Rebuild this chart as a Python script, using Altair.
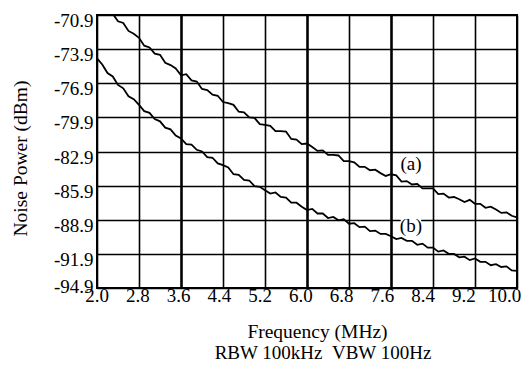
import altair as alt
import pandas as pd

freq = [round(2.0 + 0.1 * i, 1) for i in range(81)]

curve_a = [
    -69.8, -70.1, -70.65, -70.8, -71.45, -71.6, -72.3, -72.55, -72.9, -73.6,
    -73.75, -74.3, -74.4, -75.1, -75.3, -75.6, -76.2, -76.1, -76.65, -76.75,
    -77.4, -77.5, -77.9, -78.0, -78.55, -78.65, -78.8, -79.4, -79.45, -79.9,
    -79.95, -80.5, -80.55, -80.65, -81.1, -81.1, -81.15, -81.8, -81.85, -82.25,
    -82.2, -82.5, -82.85, -82.8, -83.2, -83.2, -83.25, -83.75, -83.75, -83.85,
    -84.25, -84.25, -84.55, -84.5, -84.8, -85.05, -84.9, -85.0, -85.55, -85.5,
    -85.8, -85.75, -86.15, -86.15, -86.15, -86.65, -86.6, -86.95, -86.9, -87.1,
    -87.35, -87.15, -87.5, -87.5, -87.85, -87.75, -88.0, -88.3, -88.25, -88.55,
    -88.7,
]

curve_b = [
    -74.7, -75.25, -76.0, -76.3, -77.05, -77.35, -78.05, -78.3, -78.8, -79.35,
    -79.5, -80.05, -80.25, -80.8, -80.95, -81.5, -81.75, -82.25, -82.3, -82.75,
    -82.9, -83.4, -83.45, -83.95, -84.1, -84.3, -84.9, -84.95, -85.4, -85.45,
    -85.95, -86.0, -86.3, -86.6, -86.5, -86.9, -86.95, -87.4, -87.4, -87.75,
    -88.05, -87.95, -88.35, -88.35, -88.75, -88.65, -88.95, -88.85, -89.25, -89.2,
    -89.55, -89.5, -89.9, -89.85, -90.15, -90.15, -90.35, -90.6, -90.5, -90.75,
    -90.75, -91.1, -91.0, -91.35, -91.35, -91.7, -91.6, -91.9, -91.9, -92.2,
    -92.15, -92.45, -92.3, -92.6, -92.6, -92.9, -92.8, -93.05, -93.0, -93.35,
    -93.4,
]

x_ticks = [2.0, 2.8, 3.6, 4.4, 5.2, 6.0, 6.8, 7.6, 8.4, 9.2, 10.0]
x_tick_labels = ["2.0", "2.8", "3.6", "4.4", "5.2", "6.0", "6.8", "7.6", "8.4", "9.2", "10.0"]
y_ticks = [-94.9, -91.9, -88.9, -85.9, -82.9, -79.9, -76.9, -73.9, -70.9]
y_tick_labels = ["-94.9", "-91.9", "-88.9", "-85.9", "-82.9", "-79.9", "-76.9", "-73.9", "-70.9"]

label_text = ["(a)", "(b)"]
label_x = [7.98, 7.98]
label_y = [-84.0, -89.45]

note = "RBW 100kHz\u2002VBW 100Hz"

df = pd.DataFrame({
    "freq": freq * 2,
    "power": curve_a + curve_b,
    "series": ["a"] * len(freq) + ["b"] * len(freq),
})
lab = pd.DataFrame({"text": label_text, "freq": label_x, "power": label_y})
xt = pd.DataFrame({"v": x_ticks, "t": x_tick_labels})
yt = pd.DataFrame({"v": y_ticks, "t": y_tick_labels})

FONT = "Liberation Serif"

xscale = alt.Scale(domain=[2.0, 10.0], nice=False, zero=False)
yscale = alt.Scale(domain=[-94.9, -70.9], nice=False, zero=False)

xaxis = alt.Axis(
    values=x_ticks, grid=True, labels=False,
    gridColor="black",
    gridWidth={"condition": {"test": "datum.value == 3.6 || datum.value == 6 || datum.value == 7.6", "value": 2.6}, "value": 1.6},
    gridOpacity=1,
    tickSize=0, domain=False,
    title="Frequency (MHz)", titleFont=FONT, titleFontSize=19.5,
    titleFontWeight="normal", titleColor="black",
    titleX=220, titleY=49, titleBaseline="alphabetic",
)
yaxis = alt.Axis(
    values=y_ticks, grid=True, labels=False,
    gridColor="black", gridWidth=1.6, gridOpacity=1,
    tickSize=0, domain=False,
    title="Noise Power (dBm)", titleFont=FONT, titleFontSize=19.5,
    titleFontWeight="normal", titleColor="black",
    titleX=-71, titleY=143, titleBaseline="alphabetic", titleAngle=270,
)

lines = alt.Chart(df).mark_line(color="black", strokeWidth=1.8, clip=True).encode(
    x=alt.X("freq:Q", scale=xscale, axis=xaxis),
    y=alt.Y("power:Q", scale=yscale, axis=yaxis),
    detail="series:N",
)

# white patch behind the "(b)" label (the grid line is interrupted there)
label_bg = alt.Chart(lab.iloc[1:]).mark_square(
    color="white", filled=True, opacity=1, size=420
).encode(
    x=alt.X("freq:Q", scale=xscale, axis=None),
    y=alt.Y("power:Q", scale=yscale, axis=None),
)

labels = alt.Chart(lab).mark_text(
    font=FONT, fontSize=19, color="black", align="center", baseline="middle"
).encode(
    x=alt.X("freq:Q", scale=xscale, axis=None),
    y=alt.Y("power:Q", scale=yscale, axis=None),
    text="text:N",
)

# x tick labels, spaced as in the reference (slightly tighter than the grid)
xlabels = alt.Chart(xt).mark_text(
    font=FONT, fontSize=19, color="black", align="center", baseline="alphabetic", clip=False
).encode(
    x=alt.X("v:Q", scale=alt.Scale(domain=[2.0, 10.0], range=[0, 407.5], nice=False, zero=False), axis=None),
    y=alt.value(287),
    text="t:N",
)

# y tick labels: sit just below their grid line, the lowest one just above
ylab_main = alt.Chart(yt.iloc[1:]).mark_text(
    font=FONT, fontSize=19, color="black", align="right", baseline="alphabetic", dy=12, clip=False
).encode(
    x=alt.value(-3.5),
    y=alt.Y("v:Q", scale=yscale, axis=None),
    text="t:N",
)
ylab_bottom = alt.Chart(yt.iloc[:1]).mark_text(
    font=FONT, fontSize=19, color="black", align="right", baseline="alphabetic", dy=5, clip=False
).encode(
    x=alt.value(-3.5),
    y=alt.Y("v:Q", scale=yscale, axis=None),
    text="t:N",
)

note_df = pd.DataFrame({"text": [note]})
note_mark = alt.Chart(note_df).mark_text(
    font=FONT, fontSize=19, color="black", align="center", baseline="alphabetic", clip=False
).encode(
    x=alt.value(226),
    y=alt.value(344),
    text="text:N",
)

chart = alt.layer(lines, label_bg, labels, xlabels, ylab_main, ylab_bottom, note_mark).resolve_scale(
    x="independent", y="independent"
).properties(
    width=420, height=273,
    autosize=alt.AutoSizeParams(type="none"),
    padding={"left": 89, "top": 7, "right": 4, "bottom": 74},
    background="white",
).configure_view(stroke="black", strokeWidth=2)

chart.save("out.html", embed_options={"renderer": "svg", "actions": False})
